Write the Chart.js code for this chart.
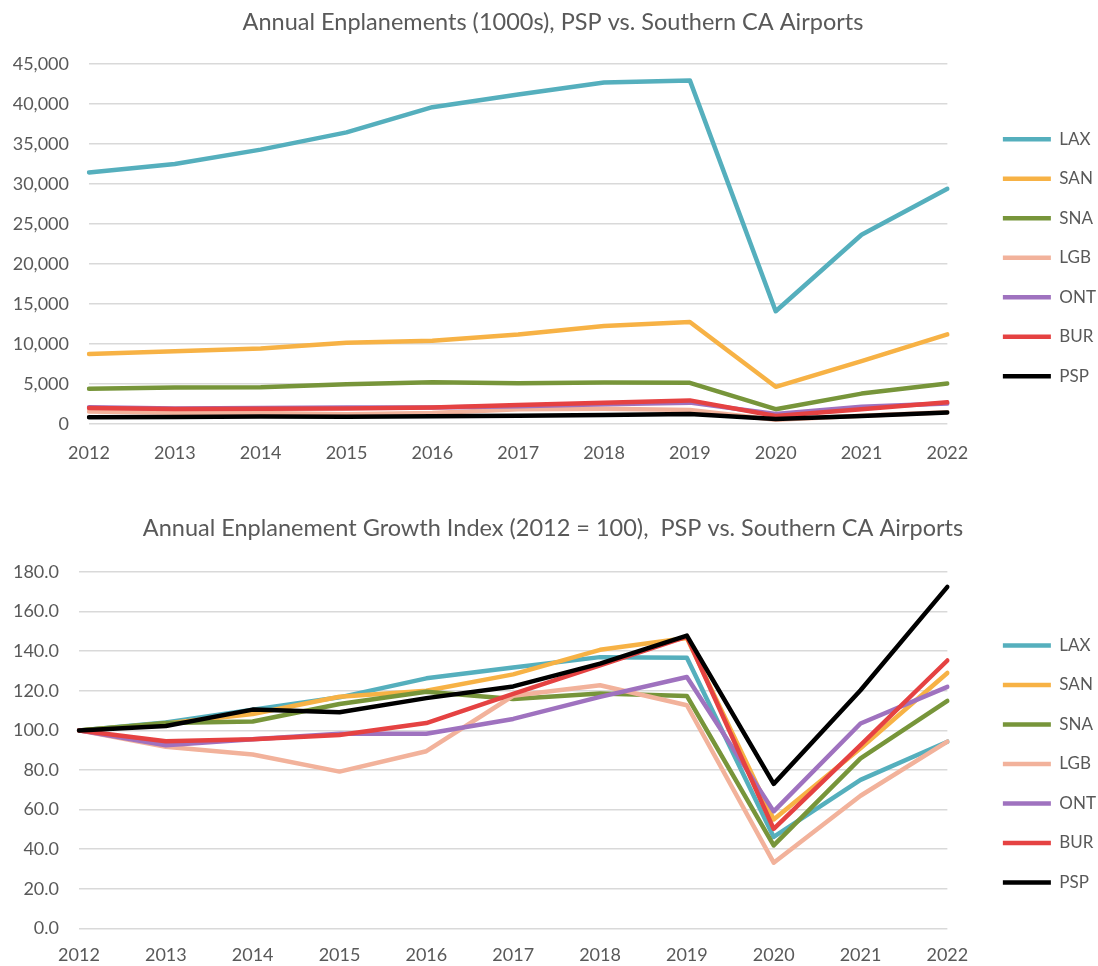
<!DOCTYPE html>
<html lang="en">
<head>
  <meta charset="UTF-8" />
  <title>PSP vs. Southern CA Airports</title>
  <script src="https://cdn.jsdelivr.net/npm/chart.js"></script>
  <style>
    html, body { margin: 0; padding: 0; background: #fff; overflow: hidden; }
    canvas { display: block; }
  </style>
</head>
<body>
  <canvas id="enplChart" width="1098" height="490"></canvas>
  <canvas id="indexChart" width="1098" height="476"></canvas>

<script>
  const years = ['2012', '2013', '2014', '2015', '2016', '2017', '2018', '2019', '2020', '2021', '2022'];
  const airports = ['LAX', 'SAN', 'SNA', 'LGB', 'ONT', 'BUR', 'PSP'];
  const colors = ['#55AFBD', '#F7B245', '#77953A', '#F2B29B', '#9F72BF', '#E54242', '#000000'];

  // enplanements, thousands
  const laxEnpl = [31450, 32500, 34300, 36450, 39600, 41200, 42700, 42950, 14100, 23650, 29400];
  const sanEnpl = [8750, 9100, 9450, 10150, 10400, 11200, 12250, 12750, 4650, 7850, 11200];
  const snaEnpl = [4400, 4550, 4580, 4980, 5220, 5100, 5200, 5150, 1850, 3800, 5050];
  const lgbEnpl = [1550, 1420, 1360, 1230, 1390, 1830, 1900, 1750, 520, 1040, 1460];
  const ontEnpl = [2100, 1940, 2010, 2060, 2060, 2220, 2460, 2670, 1240, 2170, 2560];
  const burEnpl = [2000, 1890, 1910, 1950, 2070, 2370, 2660, 2950, 1010, 1850, 2710];
  const pspEnpl = [840, 860, 930, 920, 980, 1030, 1120, 1240, 610, 1010, 1450];

  // growth index, 2012 = 100
  const laxIdx = [100, 104.0, 110.5, 116.7, 126.3, 131.8, 137.0, 136.7, 46.2, 75.0, 94.3];
  const sanIdx = [100, 103.5, 108.3, 117.0, 120.0, 128.3, 140.7, 146.7, 55.0, 91.0, 129.0];
  const snaIdx = [100, 103.7, 104.5, 113.3, 119.5, 115.8, 118.6, 117.4, 41.9, 85.9, 114.9];
  const lgbIdx = [100, 91.7, 87.8, 79.2, 89.5, 117.5, 122.8, 112.7, 33.2, 67.0, 94.3];
  const ontIdx = [100, 92.5, 95.5, 98.3, 98.3, 105.8, 116.9, 127.0, 59.1, 103.5, 122.0];
  const burIdx = [100, 94.5, 95.5, 97.7, 103.7, 118.5, 132.8, 147.4, 50.3, 92.6, 135.3];
  const pspIdx = [100, 102.2, 110.5, 109.2, 116.3, 122.2, 133.7, 147.9, 73.0, 120.3, 172.5];

  const enplSeries = [laxEnpl, sanEnpl, snaEnpl, lgbEnpl, ontEnpl, burEnpl, pspEnpl];
  const idxSeries = [laxIdx, sanIdx, snaIdx, lgbIdx, ontIdx, burIdx, pspIdx];

  Chart.defaults.font.family = 'Lato, "Open Sans", sans-serif';
  Chart.defaults.color = '#595959';

  function makeDatasets(series) {
    return series.map((vals, i) => ({
      label: airports[i],
      data: vals,
      borderColor: colors[i],
      backgroundColor: colors[i],
      borderWidth: 4.5,
      borderCapStyle: 'round',
      borderJoinStyle: 'round',
      pointRadius: 0,
      tension: 0,
      order: series.length - i   // later series painted on top, like Excel
    }));
  }

  function makeOptions(cfg) {
    return {
      responsive: false,
      animation: false,
      layout: { padding: { left: 0, right: -8, top: 0, bottom: cfg.padBottom } },
      plugins: {
        title: {
          display: true,
          text: cfg.title,
          font: { size: 23.5, weight: 'normal' },
          color: '#595959',
          padding: { top: cfg.titleTop, bottom: cfg.titleBottom }
        },
        legend: {
          position: 'right',
          fullSize: false,
          title: { display: true, text: '', padding: 0, font: { size: 23 } },
          labels: {
            usePointStyle: true,
            pointStyle: 'line',
            pointStyleWidth: 48,
            boxHeight: 17,
            padding: 22.5,
            font: { size: 17 },
            color: '#595959',
            sort: (a, b) => a.datasetIndex - b.datasetIndex
          }
        },
        tooltip: { enabled: false }
      },
      scales: {
        x: {
          grid: { display: false, drawTicks: false },
          border: { display: false },
          ticks: { font: { size: 18 }, padding: cfg.xPad, maxRotation: 0, autoSkip: false },
          afterFit: s => { s.height = cfg.xPad + 21.6; }
        },
        y: {
          min: 0,
          max: cfg.yMax,
          grid: { color: '#D9D9D9', lineWidth: 1.5, drawTicks: false },
          border: { display: false },
          ticks: { stepSize: cfg.step, font: { size: 18 }, padding: 20, callback: cfg.fmt },
          afterFit: s => { s.width = cfg.yWidth; }
        },
        gap: {
          type: 'linear',
          axis: 'y',
          position: 'right',
          ticks: { display: false },
          grid: { display: false, drawTicks: false },
          border: { display: false },
          afterFit: s => { s.width = 33; }
        }
      }
    };
  }

  new Chart(document.getElementById('enplChart'), {
    type: 'line',
    data: { labels: years, datasets: makeDatasets(enplSeries) },
    options: makeOptions({
      title: 'Annual Enplanements (1000s), PSP vs. Southern CA Airports',
      titleTop: 7.9, titleBottom: 27.9, padBottom: 26.4, xPad: 18,
      yMax: 45000, step: 5000, yWidth: 89,
      fmt: v => v.toLocaleString('en-US')
    })
  });

  new Chart(document.getElementById('indexChart'), {
    type: 'line',
    data: { labels: years, datasets: makeDatasets(idxSeries) },
    options: makeOptions({
      title: 'Annual Enplanement Growth Index (2012 = 100),  PSP vs. Southern CA Airports',
      titleTop: 23.9, titleBottom: 29.9, padBottom: 0, xPad: 16,
      yMax: 180, step: 20, yWidth: 79,
      fmt: v => v.toFixed(1)
    })
  });
</script>
</body>
</html>
